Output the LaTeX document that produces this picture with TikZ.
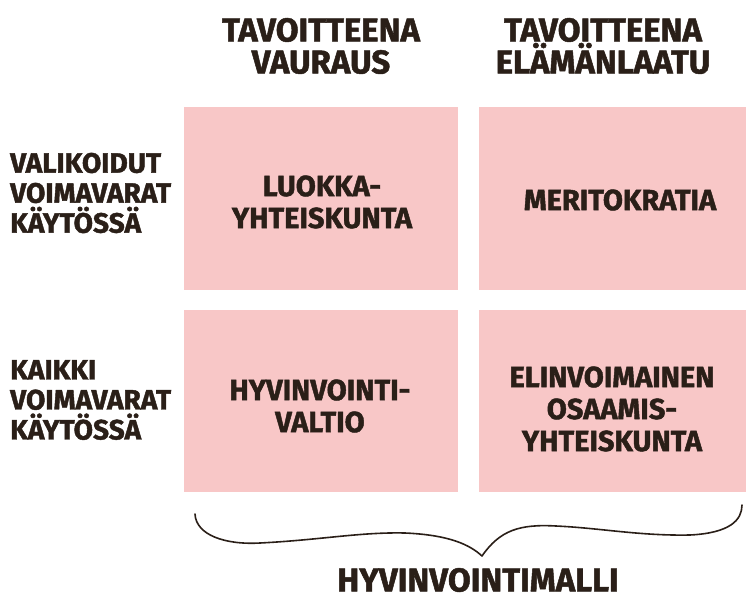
\documentclass[tikz,border=0pt]{standalone}
\usepackage{fontspec}
\setmainfont{Fira Sans}[BoldFeatures={FakeBold=1.5}]
\definecolor{ink}{RGB}{42,31,24}
\definecolor{pinkfill}{RGB}{248,199,199}
\tikzset{
  cell/.style={fill=pinkfill, draw=none, minimum width=#1, minimum height=182pt, inner sep=0pt},
  head/.style={text=ink, font=\fontsize{33}{32}\selectfont\bfseries, align=center, inner sep=0pt},
  side/.style={text=ink, font=\fontsize{28}{30}\selectfont\bfseries, align=left, inner sep=0pt, anchor=west},
  cellt/.style={text=ink, font=\fontsize{29}{32}\selectfont\bfseries, align=center, inner sep=0pt},
  bracestroke/.style={draw=ink, line width=1.6pt, line cap=round, line join=round}
}
\begin{document}
\begin{tikzpicture}[x=1pt,y=-1pt]
\useasboundingbox (0,0) rectangle (747,599);
\node[cell=274pt] (c11) at (321,198.5) {};
\node[cell=267pt] (c12) at (612.5,198.5) {};
\node[cell=274pt] (c21) at (321,400.5) {};
\node[cell=267pt] (c22) at (612.5,400.5) {};
\node[head] (h1) at (321,46) {TAVOITTEENA\\VAURAUS};
\node[head] (h2) at (603,46) {TAVOITTEENA\\ELÄMÄNLAATU};
\node[side] (s1) at (10,193) {VALIKOIDUT\\VOIMAVARAT\\KÄYTÖSSÄ};
\node[side] (s2) at (10,400) {KAIKKI\\VOIMAVARAT\\KÄYTÖSSÄ};
\node[cellt] (t11) at (322,202) {LUOKKA-\\YHTEISKUNTA};
\node[cellt] (t12) at (620,200) {MERITOKRATIA};
\node[cellt] (t21) at (320,406) {HYVINVOINTI-\\VALTIO};
\node[cellt] (t22) at (612,409) {ELINVOIMAINEN\\OSAAMIS-\\YHTEISKUNTA};
\node[head] (bottom) at (478,580) {HYVINVOINTIMALLI};
\coordinate (bl) at (195,514);
\coordinate (tip) at (482,556);
\coordinate (br) at (742,505);
\draw[bracestroke] (bl) .. controls (196,535) and (225,545) .. (260,543)
  .. controls (320,540) and (360,532) .. (405,533)
  .. controls (450,535) and (470,545) .. (tip)
  .. controls (500,530) and (520,524) .. (556,526)
  .. controls (600,528) and (640,536) .. (690,535)
  .. controls (730,533) and (742,520) .. (br);
\end{tikzpicture}
\end{document}
